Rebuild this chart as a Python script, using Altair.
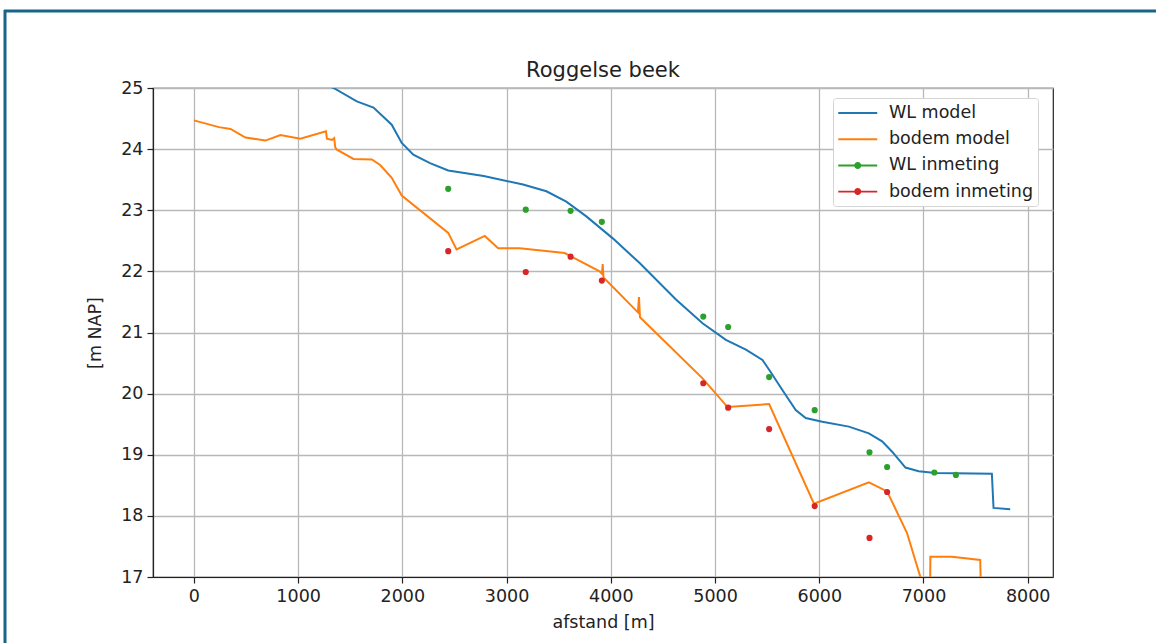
import altair as alt
import pandas as pd

# ---- data ----
series = ["WL model", "bodem model", "WL inmeting", "bodem inmeting"]
colors = ["#1f77b4", "#ff7f0e", "#2ca02c", "#d62728"]

wl_model_x = [0, 1200, 1340, 1563, 1723, 1898, 1994, 2105, 2265, 2440, 2780, 3158, 3382, 3573,
              3765, 4019, 4274, 4625, 4880, 5104, 5296, 5455, 5519, 5646, 5774, 5870, 6029, 6284,
              6476, 6603, 6699, 6827, 6954, 7114, 7656, 7672, 7832]
wl_model_y = [25.6, 25.1, 25.0, 24.78, 24.68, 24.40, 24.10, 23.91, 23.77, 23.65, 23.56, 23.42, 23.31,
              23.14, 22.90, 22.54, 22.14, 21.54, 21.15, 20.88, 20.72, 20.55, 20.39, 20.06, 19.73,
              19.60, 19.54, 19.46, 19.35, 19.22, 19.05, 18.79, 18.73, 18.70, 18.69, 18.13, 18.11]

bodem_model_x = [0, 240, 351, 495, 686, 830, 1021, 1267, 1276, 1324, 1346, 1356, 1372, 1531, 1707,
                 1787, 1898, 1994, 2440, 2520, 2791, 2919, 3126, 3557, 3892, 3915, 3922, 3930, 4260,
                 4270, 4280, 4880, 5120, 5519, 5949, 6476, 6651, 6842, 6970, 7062, 7066, 7273, 7544,
                 7556]
bodem_model_y = [24.47, 24.36, 24.33, 24.19, 24.14, 24.23, 24.17, 24.29, 24.17, 24.15, 24.18, 24.03,
                 23.99, 23.84, 23.83, 23.74, 23.53, 23.24, 22.63, 22.36, 22.58, 22.38, 22.38, 22.30,
                 22.00, 21.96, 22.12, 21.90, 21.33, 21.58, 21.25, 20.25, 19.78, 19.83, 18.20, 18.55,
                 18.40, 17.72, 17.00, 16.50, 17.33, 17.33, 17.28, 16.50]

wl_meting_x = [2440, 3184, 3614, 3914, 4887, 5126, 5519, 5956, 6482, 6651, 7104, 7311]
wl_meting_y = [23.35, 23.01, 22.99, 22.81, 21.26, 21.09, 20.27, 19.73, 19.04, 18.80, 18.71, 18.67]

bodem_meting_x = [2440, 3184, 3614, 3914, 4887, 5126, 5519, 5956, 6482, 6651]
bodem_meting_y = [22.33, 21.99, 22.24, 21.85, 20.17, 19.77, 19.42, 18.16, 17.64, 18.39]

x_ticks = [0, 1000, 2000, 3000, 4000, 5000, 6000, 7000, 8000]
y_ticks = [17, 18, 19, 20, 21, 22, 23, 24, 25]

# ---- tables ----
df_lines = pd.concat([
    pd.DataFrame({"afstand": wl_model_x, "hoogte": wl_model_y, "serie": "WL model",
                  "volgorde": range(len(wl_model_x))}),
    pd.DataFrame({"afstand": bodem_model_x, "hoogte": bodem_model_y, "serie": "bodem model",
                  "volgorde": range(len(bodem_model_x))}),
])
df_pts = pd.concat([
    pd.DataFrame({"afstand": wl_meting_x, "hoogte": wl_meting_y, "serie": "WL inmeting"}),
    pd.DataFrame({"afstand": bodem_meting_x, "hoogte": bodem_meting_y, "serie": "bodem inmeting"}),
])

FONT = "DejaVu Sans"
FS = 17.5
x_scale = alt.Scale(domain=[-392.5, 8242.5], nice=False, zero=False)
y_scale = alt.Scale(domain=[17, 25], nice=False, zero=False)
x_axis = alt.Axis(values=x_ticks, title="afstand [m]", format="d", grid=True)
y_axis = alt.Axis(values=y_ticks, title="[m NAP]", format="d", grid=True)

lines = alt.Chart(df_lines).mark_line(clip=True, strokeWidth=2).encode(
    x=alt.X("afstand:Q", scale=x_scale, axis=x_axis),
    y=alt.Y("hoogte:Q", scale=y_scale, axis=y_axis),
    color=alt.Color("serie:N", scale=alt.Scale(domain=series, range=colors), legend=None),
    order="volgorde:Q",
)

points = alt.Chart(df_pts).mark_circle(size=38, opacity=1, clip=True).encode(
    x=alt.X("afstand:Q", scale=x_scale),
    y=alt.Y("hoogte:Q", scale=y_scale),
    color=alt.Color("serie:N", scale=alt.Scale(domain=series, range=colors), legend=None),
)

line_sym = "M-1,-0.1H3V0.1H-1Z"
dot_sym = "M-1,-0.1H3V0.1H-1Z M1.36,0A0.36,0.36,0,1,1,0.64,0A0.36,0.36,0,1,1,1.36,0Z"
leg = alt.Legend(title=None, orient="none", legendX=680, legendY=10,
                 labelFont=FONT, labelFontSize=FS, labelColor="#222",
                 strokeColor="#d4d4d4", fillColor="white", padding=5, cornerRadius=3,
                 symbolSize=380, symbolOpacity=1, symbolStrokeWidth=0,
                 rowPadding=7.2, labelOffset=31)
legend_layer = alt.Chart(pd.DataFrame({"serie": series})).mark_point(filled=True, opacity=0).encode(
    x=alt.value(0), y=alt.value(0),
    color=alt.Color("serie:N", scale=alt.Scale(domain=series, range=colors), legend=leg),
    shape=alt.Shape("serie:N", scale=alt.Scale(domain=series, range=[line_sym, line_sym, dot_sym, dot_sym]),
                    legend=leg),
)

frame_src = pd.DataFrame({"a": [0]})
frame_top = alt.Chart(frame_src).mark_rule(color="#17668a", strokeWidth=3).encode(
    x=alt.value(-149), x2=alt.value(1010), y=alt.value(-77))
frame_left = alt.Chart(frame_src).mark_rule(color="#17668a", strokeWidth=3).encode(
    x=alt.value(-148), y=alt.value(-78), y2=alt.value(560))

chart = alt.layer(lines, points, legend_layer, frame_top, frame_left).resolve_scale(
    color="independent", shape="independent"
).properties(
    width=900, height=489,
    title=alt.TitleParams("Roggelse beek", font=FONT, fontSize=21, fontWeight="normal",
                          color="#222", anchor="middle", offset=8, dy=80),
    padding={"left": 153, "top": 88, "right": 103, "bottom": 66},
    autosize=alt.AutoSizeParams(type="none"),
).configure_view(stroke="#222", strokeWidth=1.2).configure_axis(
    labelFont=FONT, labelFontSize=FS, labelColor="#222",
    titleFont=FONT, titleFontSize=FS, titleFontWeight="normal", titleColor="#222",
    domainColor="#222", domainWidth=1.2, tickColor="#222", tickSize=6, tickWidth=1.2,
    gridColor="#b8b8b8", gridWidth=1.3, labelPadding=4,
).configure_axisY(titlePadding=16).configure_axisX(titlePadding=9)

chart.save("out.html", embed_options={"renderer": "svg", "actions": False})
